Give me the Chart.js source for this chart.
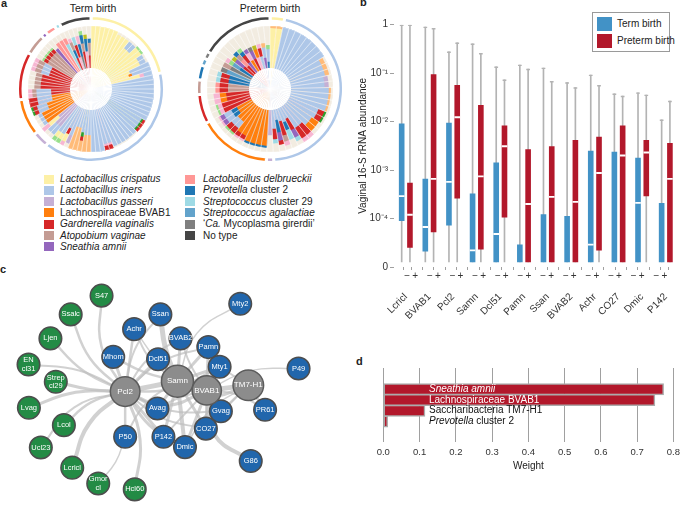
<!DOCTYPE html>
<html>
<head>
<meta charset="utf-8">
<script src="https://cdn.jsdelivr.net/npm/chart.js@4.4.0/dist/chart.umd.min.js"></script>
<style>
  body { margin: 0; background: #fff; font-family: "Liberation Sans", Arial, Helvetica, sans-serif; color: #222; }
  #fig { position: relative; width: 685px; height: 519px; overflow: hidden; }
  #fig canvas { position: absolute; }
  .lab { position: absolute; font-weight: bold; font-size: 11px; }
  .ttl { position: absolute; font-size: 10.5px; text-align: center; line-height: 11px; }
  .txt { position: absolute; font-size: 10px; line-height: 10px; white-space: nowrap; }
  .sw { position: absolute; width: 10px; height: 9px; }
  #legB { position: absolute; left: 592px; top: 12px; width: 78px; height: 40px; border: 1px solid #9a9a9a; box-sizing: border-box; }
  #legB .sw { width: 15px; height: 14px; }
</style>
</head>
<body>
<div id="fig">
  <div class="lab" style="left:1px;top:-3px">a</div>
  <div class="lab" style="left:360px;top:-4px">b</div>
  <div class="lab" style="left:0px;top:263px">c</div>
  <div class="lab" style="left:356px;top:355px">d</div>
  <div class="ttl" style="left:43px;top:3px;width:100px">Term birth</div>
  <div class="ttl" style="left:220px;top:3px;width:100px">Preterm birth</div>
  <div id="legA"></div>
  <div id="legB">
    <div class="sw" style="left:4px;top:4px;background:#4292c6"></div>
    <div class="txt" style="left:24px;top:6px">Term birth</div>
    <div class="sw" style="left:4px;top:21px;background:#b2182b"></div>
    <div class="txt" style="left:24px;top:23px">Preterm birth</div>
  </div>
</div>
<script>
const FONT = '"Liberation Sans", Arial, Helvetica, sans-serif';

// ---------- panel a: community composition per sample ----------
const speciesKeys = ['crisp', 'iners', 'gass', 'bvab1', 'gvag', 'avag', 'samn',
                     'delb', 'prev', 'strep29', 'sagal', 'myco', 'none'];
const speciesLegend = ['<i>Lactobacillus crispatus</i>', '<i>Lactobacillus iners</i>',
  '<i>Lactobacillus gasseri</i>', 'Lachnospiraceae BVAB1', '<i>Gardnerella vaginalis</i>',
  '<i>Atopobium vaginae</i>', '<i>Sneathia amnii</i>', '<i>Lactobacillus delbrueckii</i>',
  '<i>Prevotella</i> cluster 2', '<i>Streptococcus</i> cluster 29', '<i>Streptococcus agalactiae</i>',
  '‘<i>Ca.</i> Mycoplasma girerdii’', 'No type'];
const speciesColors = ['#fdf0a6', '#aec7e8', '#c5b0d5', '#ff7f0e', '#d62728', '#c49c94', '#9467bd',
                       '#ff9896', '#1f77b4', '#9edae5', '#62a3cb', '#7f7f7f', '#454545'];
// minor taxa seen in the bars
const minorKeys = ['lorange', 'green', 'lgreen', 'pink', 'olive', 'other'];
const minorColors = ['#ffbb78', '#2ca02c', '#98df8a', '#f7b6d2', '#bcbd22', '#f2ece1'];

// [type, number of samples, composition inner -> outer]
const termGroups = [
  ['crisp', 6, 'crisp:1'],
  ['crisp', 3, 'crisp:.95 other:.05'],
  ['crisp', 2, 'crisp:.75 iners:.2 other:.05'],
  ['crisp', 2, 'crisp:.95 lgreen:.05'],
  ['crisp', 2, 'crisp:.8 iners:.15 other:.05'],
  ['crisp', 1, 'crisp:.5 iners:.5'],
  ['crisp', 1, 'crisp:.45 bvab1:.08 iners:.47'],
  ['crisp', 1, 'crisp:.7 pink:.1 iners:.2'],
  ['iners', 10, 'iners:1'],
  ['iners', 3, 'iners:.9 green:.04 gvag:.06'],
  ['iners', 6, 'iners:.97 other:.03'],
  ['iners', 2, 'iners:.85 pink:.05 gvag:.1'],
  ['iners', 3, 'iners:1'],
  ['iners', 2, 'iners:.6 lorange:.4'],
  ['iners', 1, 'iners:.55 green:.1 gvag:.1 lorange:.25'],
  ['iners', 2, 'iners:.45 lorange:.55'],
  ['iners', 1, 'iners:.7 gass:.2 other:.1'],
  ['iners', 1, 'iners:.55 gvag:.15 crisp:.2 pink:.1'],
  ['iners', 2, 'iners:.75 crisp:.15 lgreen:.1'],
  ['gass', 2, 'gass:.65 iners:.25 other:.1'],
  ['gass', 1, 'gass:.5 crisp:.3 pink:.2'],
  ['bvab1', 3, 'bvab1:.8 iners:.1 other:.1'],
  ['bvab1', 2, 'bvab1:.6 iners:.25 gvag:.1 green:.05'],
  ['bvab1', 2, 'bvab1:.45 iners:.35 gvag:.2'],
  ['gvag', 2, 'gvag:.45 iners:.35 avag:.1 pink:.1'],
  ['gvag', 4, 'gvag:.7 avag:.15 other:.15'],
  ['gvag', 3, 'gvag:.55 iners:.2 avag:.15 pink:.1'],
  ['avag', 4, 'avag:.7 gvag:.1 lgreen:.05 other:.15'],
  ['samn', 1, 'samn:.75 other:.25'],
  ['delb', 2, 'delb:.85 other:.15'],
  ['strep29', 1, 'strep29:.7 delb:.15 other:.15'],
  ['none', 1, 'gvag:.3 prev:.2 avag:.2 pink:.1 other:.2'],
  ['none', 1, 'pink:.3 gvag:.3 strep29:.2 other:.2'],
  ['none', 1, 'myco:.3 prev:.3 pink:.2 other:.2'],
  ['none', 1, 'gvag:.4 avag:.2 prev:.2 lgreen:.1 other:.1'],
  ['none', 1, 'pink:.4 prev:.3 olive:.1 other:.2'],
  ['none', 1, 'gvag:.3 avag:.3 prev:.1 other:.3']
];
const pretermGroups = [
  ['crisp', 2, 'crisp:.95 lorange:.05'],
  ['iners', 8, 'iners:1'],
  ['iners', 3, 'iners:.85 lorange:.1 other:.05'],
  ['iners', 2, 'iners:.8 gass:.1 other:.1'],
  ['iners', 4, 'iners:.9 lorange:.05 other:.05'],
  ['iners', 2, 'iners:.75 gvag:.15 green:.05 other:.05'],
  ['iners', 2, 'iners:.7 bvab1:.2 other:.1'],
  ['iners', 2, 'iners:.6 gvag:.3 pink:.1'],
  ['iners', 1, 'iners:.3 gvag:.3 samn:.2 strep29:.1 other:.1'],
  ['iners', 1, 'iners:.35 prev:.2 strep29:.25 other:.2'],
  ['iners', 1, 'iners:.3 gvag:.35 avag:.15 pink:.1 other:.1'],
  ['iners', 1, 'iners:.25 prev:.3 samn:.2 gvag:.1 other:.15'],
  ['iners', 1, 'iners:.45 gvag:.25 strep29:.1 other:.2'],
  ['gass', 1, 'gass:.6 other:.4'],
  ['bvab1', 4, 'bvab1:.85 prev:.05 other:.1'],
  ['bvab1', 2, 'bvab1:.75 gvag:.1 pink:.05 other:.1'],
  ['bvab1', 2, 'bvab1:.5 iners:.2 gvag:.15 lgreen:.05 other:.1'],
  ['bvab1', 2, 'bvab1:.4 prev:.15 iners:.2 samn:.1 pink:.05 other:.1'],
  ['gvag', 2, 'gvag:.7 pink:.1 lgreen:.05 other:.15'],
  ['gvag', 2, 'gvag:.55 bvab1:.15 pink:.15 other:.15'],
  ['avag', 2, 'avag:.5 gvag:.2 delb:.1 other:.2'],
  ['prev', 2, 'prev:.5 gvag:.2 strep29:.1 other:.2'],
  ['sagal', 1, 'sagal:.6 myco:.15 other:.25'],
  ['myco', 1, 'myco:.55 avag:.2 other:.25'],
  ['none', 1, 'prev:.35 sagal:.2 lgreen:.1 pink:.1 other:.25'],
  ['none', 1, 'gvag:.3 samn:.25 olive:.1 other:.35'],
  ['none', 1, 'gvag:.25 delb:.2 avag:.15 prev:.1 other:.3'],
  ['none', 1, 'samn:.3 gvag:.2 prev:.1 lgreen:.1 other:.3'],
  ['none', 1, 'bvab1:.3 pink:.2 samn:.1 other:.4'],
  ['none', 1, 'gvag:.3 samn:.2 myco:.1 other:.4'],
  ['none', 1, 'pink:.3 bvab1:.2 olive:.1 other:.4'],
  ['none', 1, 'iners:.3 gvag:.2 pink:.1 other:.4'],
  ['none', 1, 'samn:.25 iners:.25 lorange:.1 other:.4'],
  ['none', 1, 'prev:.15 iners:.3 lgreen:.1 other:.45']
];

// ---------- panel b: abundance of discriminating taxa ----------
const bCats = ['Lcricl', 'BVAB1', 'Pcl2', 'Samn', 'Dcl51', 'Pamn', 'Ssan', 'BVAB2', 'Achr', 'CO27', 'Dmic', 'P142'];
const bTicks = [1e-5, 1e-4, 1e-3, 1e-2, 1e-1, 1];
const ZERO = 1.25e-5;   // where zero abundance is drawn on the log axis
const termLow = [0, 0, 0, 0, 0, 0, 0, 0, 0, 0, 0, 0];
const termQ1  = [8.9e-5, 2.1e-5, 7.2e-5, 0, 0, 0, 0, 0, 0, 0, 0, 0];
const termMed = [2.9e-4, 6.7e-5, 5.7e-4, 2.2e-5, 4.8e-5, 0, 0, 0, 2.9e-5, 0, 2.1e-4, 0];
const termQ3  = [9.1e-3, 6.6e-4, 9.5e-3, 3.3e-4, 1.44e-3, 2.9e-5, 1.23e-4, 1.13e-4, 2.5e-3, 2.4e-3, 1.8e-3, 2.1e-4];
const termTop = [1, 0.91, 0.28, 0.41, 0.137, 0.15, 0.13, 0.065, 0.093, 0.038, 0.040, 0.011];
const preLow = [0, 0, 0, 0, 0, 0, 0, 0, 0, 0, 0, 0];
const preQ1  = [2.5e-5, 5.2e-5, 2.6e-4, 2.3e-5, 1.05e-4, 0, 0, 0, 2.2e-5, 0, 2.9e-4, 0];
const preMed = [1.2e-4, 6.6e-4, 1.23e-2, 7.4e-4, 3.1e-3, 2.0e-4, 2.8e-4, 2.2e-4, 8.7e-4, 2.0e-3, 2.3e-3, 6.6e-4];
const preQ3  = [5.5e-4, 0.095, 0.057, 0.022, 8.3e-3, 2.7e-3, 3.1e-3, 4.2e-3, 4.9e-3, 8.3e-3, 4.2e-3, 3.6e-3];
const preTop = [1, 0.85, 0.43, 0.26, 0.074, 0.123, 0.069, 0.051, 0.057, 0.034, 0.036, 0.027];

// ---------- panel c: co-occurrence network ----------
const nodeNames = ['S47', 'Ssalc', 'Ljen', 'EN cl31', 'Strep cl29', 'Lvag', 'Lcol', 'Ucl23', 'Lcricl', 'Gmor cl', 'Hcl60',
  'Ssan', 'Mty2', 'Achr', 'BVAB2', 'Pamn', 'Mhom', 'Dcl51', 'Mty1', 'P49', 'Avag', 'Gvag', 'PR61', 'CO27', 'P50', 'P142', 'Dmic', 'G86',
  'Pcl2', 'Samn', 'BVAB1', 'TM7-H1'];
const nodeX = [93.7, 59.3, 36.7, 12.3, 42.7, 12.7, 51.7, 26, 61, 90, 130.7,
  159.3, 248.3, 130, 181.7, 212.7, 106.7, 156.7, 225.3, 313.3, 156, 226.7, 276, 210, 120, 162.7, 186.7, 260,
  120, 178.3, 211, 257.3];
const nodeY = [281.7, 303.3, 331, 361, 381, 411, 431, 456.7, 480, 498.3, 505,
  303.3, 291, 320.3, 331, 341, 352.3, 355, 363.7, 365.7, 411.7, 415, 413.3, 435, 444.3, 444.3, 456.3, 472.3,
  392.3, 380.3, 391, 385];
const nodeGroup = ['g', 'g', 'g', 'g', 'g', 'g', 'g', 'g', 'g', 'g', 'g',
  'b', 'b', 'b', 'b', 'b', 'b', 'b', 'b', 'b', 'b', 'b', 'b', 'b', 'b', 'b', 'b', 'b',
  'h', 'h', 'h', 'h'];
const nodeSize = [11.3, 11.3, 11.3, 11.3, 11.3, 11.3, 11.3, 11.3, 11.3, 11.3, 11.3,
  11.3, 11.3, 11.3, 11.3, 11.3, 11.3, 11.3, 11.3, 11.3, 11.3, 11.3, 11.3, 11.3, 11.3, 11.3, 11.3, 11.3,
  14.8, 16, 14.6, 15.3];
// [from, to, width, bend]
const edges = [
  ['S47', 'Pcl2', 2.5, 0.12], ['Ssalc', 'Pcl2', 2.5, 0.1], ['Ljen', 'Pcl2', 2.5, 0.08],
  ['EN cl31', 'Pcl2', 2, -0.08], ['Strep cl29', 'Pcl2', 3, 0.04], ['Lvag', 'Pcl2', 3, -0.08],
  ['Lcol', 'Pcl2', 2.5, -0.1], ['Ucl23', 'Pcl2', 2, -0.15], ['Lcricl', 'Pcl2', 4, -0.12],
  ['Gmor cl', 'P50', 1.5, 0.08], ['Hcl60', 'Pcl2', 3, 0.1],
  ['Pcl2', 'Samn', 5, 0], ['Samn', 'BVAB1', 5, 0], ['BVAB1', 'TM7-H1', 5, 0],
  ['Samn', 'TM7-H1', 3, 0.18], ['Pcl2', 'BVAB1', 3, 0.18],
  ['Ssan', 'Samn', 5, 0.05], ['Ssan', 'Pcl2', 2, 0.1],
  ['Achr', 'Pcl2', 2.5, 0], ['Achr', 'Samn', 2, 0.1], ['Achr', 'BVAB1', 1.5, 0.1],
  ['BVAB2', 'Samn', 3, 0], ['BVAB2', 'BVAB1', 2, 0.05], ['BVAB2', 'Pcl2', 2, 0.1],
  ['Pamn', 'Samn', 3, 0], ['Pamn', 'BVAB1', 3, 0], ['Pamn', 'Pcl2', 2, 0.1],
  ['Mhom', 'Pcl2', 3, 0], ['Mhom', 'Samn', 2.5, 0.05],
  ['Dcl51', 'Pcl2', 3, 0], ['Dcl51', 'Samn', 3, 0], ['Dcl51', 'BVAB1', 2, 0.05],
  ['Mty1', 'Samn', 3, 0], ['Mty1', 'BVAB1', 2.5, 0], ['Mty1', 'TM7-H1', 2, 0], ['Mty1', 'Pcl2', 2.5, -0.1],
  ['Mty2', 'Samn', 1.5, 0.15], ['P49', 'BVAB1', 1.5, 0.1],
  ['Avag', 'Pcl2', 3, 0], ['Avag', 'Samn', 3, 0], ['Avag', 'BVAB1', 2, -0.05],
  ['Gvag', 'BVAB1', 3, 0], ['Gvag', 'TM7-H1', 2, 0], ['Gvag', 'Samn', 2.5, 0], ['Gvag', 'Pcl2', 2, -0.1],
  ['PR61', 'TM7-H1', 3, 0], ['PR61', 'BVAB1', 2, 0.1], ['G86', 'BVAB1', 4, -0.2],
  ['CO27', 'Samn', 3, 0], ['CO27', 'BVAB1', 2.5, 0], ['CO27', 'Pcl2', 2, -0.1], ['CO27', 'TM7-H1', 1.5, 0],
  ['P50', 'Pcl2', 2.5, 0], ['P50', 'Samn', 2, -0.1],
  ['P142', 'Pcl2', 3, 0], ['P142', 'Samn', 3, 0], ['P142', 'BVAB1', 2, 0],
  ['Dmic', 'Samn', 4, 0], ['Dmic', 'Pcl2', 3, -0.1], ['Dmic', 'BVAB1', 3, 0], ['Dmic', 'TM7-H1', 1.5, -0.1]
];

// ---------- panel d: classifier weights ----------
const dNames = [[['Sneathia amnii', true]], [['Lachnospiraceae BVAB1', false]],
                [['Saccharibacteria TM7-H1', false]], [['Prevotella', true], [' cluster 2', false]]];
const dWeights = [0.773, 0.749, 0.115, 0.012];
const dLabelAt = 0.126;

const TERM = '#4292c6', PRE = '#b2182b', WHISK = '#b3b3b3';

Chart.defaults.font.family = FONT;
Chart.defaults.color = '#222';
Chart.defaults.animation = false;
Chart.defaults.responsive = false;
Chart.defaults.events = [];
Chart.defaults.plugins.legend.display = false;
Chart.defaults.plugins.tooltip.enabled = false;

function canvasAt(left, top, w, h) {
  const c = document.createElement('canvas');
  c.width = w; c.height = h;
  c.style.left = left + 'px'; c.style.top = top + 'px';
  document.getElementById('fig').appendChild(c);
  return c;
}

function colorOf(key) {
  const i = speciesKeys.indexOf(key);
  return i >= 0 ? speciesColors[i] : minorColors[minorKeys.indexOf(key)];
}

// legend of panel a
let legHtml = '';
speciesKeys.forEach((k, i) => {
  const col = i < 7 ? 0 : 1, row = col ? i - 7 : i;
  const top = 174.5 + row * 11.3;
  legHtml += '<div class="sw" style="left:' + (col ? 185 : 44) + 'px;top:' + top + 'px;background:' + speciesColors[i] + '"></div>' +
             '<div class="txt" style="left:' + (col ? 203 : 60) + 'px;top:' + (top - 0.5) + 'px">' + speciesLegend[i] + '</div>';
});
document.getElementById('legA').innerHTML = legHtml;

function drawCircle(cx, cy, groups) {
  const mixes = [];
  groups.forEach(([type, n, mix]) => {
    const comp = mix.split(' ').map(s => { const [k, f] = s.split(':'); return [k, +f]; });
    for (let k = 0; k < n; k++) mixes.push(comp);
  });
  const depth = Math.max(...mixes.map(m => m.length));
  const layers = [];
  for (let L = 0; L < depth; L++) {
    layers.push({
      data: mixes.map(m => m.slice(0, L + 1).reduce((s, p) => s + p[1], 0)),
      backgroundColor: mixes.map(m => colorOf(m[Math.min(L, m.length - 1)][0])),
      borderWidth: 0
    });
  }
  const hole = { data: mixes.map(() => 0), backgroundColor: '#fff', borderWidth: 0 };
  const sep = { data: mixes.map(m => m.reduce((s, p) => s + p[1], 0)), backgroundColor: 'rgba(0,0,0,0)',
                borderColor: 'rgba(255,255,255,0.9)', borderWidth: 0.35 };
  new Chart(canvasAt(cx - 76, cy - 76, 152, 152), {
    type: 'polarArea',
    data: { labels: mixes.map((m, i) => 's' + i), datasets: [hole, sep, ...layers] },
    options: { scales: { r: { display: false, min: -0.5, max: 1.3095, bounds: 'data', startAngle: 0 } } }
  });

  // outer ring: sample type
  const ringTypes = [], ringCounts = [];
  groups.forEach(([t, n]) => {
    if (ringTypes[ringTypes.length - 1] === t) ringCounts[ringCounts.length - 1] += n;
    else { ringTypes.push(t); ringCounts.push(n); }
  });
  new Chart(canvasAt(cx - 75, cy - 75, 150, 150), {
    type: 'doughnut',
    data: { labels: ringTypes, datasets: [{ data: ringCounts, backgroundColor: ringTypes.map(colorOf),
      borderColor: '#fff', borderWidth: 3, hoverBorderWidth: 3, hoverOffset: 0, offset: 0 }] },
    options: { cutout: '92.5%' }
  });
}
drawCircle(91, 89, termGroups);
drawCircle(270, 89, pretermGroups);

// panel b
const Z = v => v === 0 ? ZERO : v;
const spans = (lo, hi) => lo.map((l, i) => [Z(l), Z(hi[i])]);
const medians = med => med.map(m => m ? [m / 1.045, m * 1.045] : null);
const caps = top => top.map(t => [t / 1.07, t]);
const bar = (stack, data, color, pct, order) => ({ stack, data, backgroundColor: color, borderWidth: 0,
  barPercentage: pct, categoryPercentage: 0.7, order });
const decade = { '-5': '0', '-4': '10\u207B\u2074', '-3': '10\u207B\u00B3', '-2': '10\u207B\u00B2', '-1': '10\u207B\u00B9', '0': '1' };

new Chart(canvasAt(340, 0, 345, 321), {
  type: 'bar',
  data: {
    labels: bCats,
    datasets: [
      bar('t', medians(termMed), '#fff', 0.68, 0),
      bar('p', medians(preMed), '#fff', 0.68, 0),
      bar('t', spans(termQ1, termQ3), TERM, 0.68, 1),
      bar('p', spans(preQ1, preQ3), PRE, 0.68, 1),
      bar('t', caps(termTop), WHISK, 0.45, 2),
      bar('p', caps(preTop), WHISK, 0.45, 2),
      bar('t', spans(termLow, termTop), WHISK, 0.2, 3),
      bar('p', spans(preLow, preTop), WHISK, 0.2, 3)
    ]
  },
  options: {
    layout: { padding: { left: 0, right: 7.4, top: 24.7, bottom: 0 } },
    scales: {
      x: {
        type: 'category', stacked: true, offset: true, weight: 1,
        grid: { display: false }, border: { display: false },
        ticks: { minRotation: 45, maxRotation: 45, padding: 2, autoSkip: false, font: { size: 10 }, color: '#333' },
        afterFit: s => { s.height = 40; }
      },
      x2: {
        type: 'linear', position: 'bottom', min: 0, max: bCats.length, weight: 0,
        grid: { drawOnChartArea: false, tickLength: 3, color: '#a0a0a0' }, border: { display: false },
        ticks: { autoSkip: false, maxRotation: 0, padding: 0, font: { size: 10 }, color: '#333',
                 callback: (v, i) => i % 2 ? '+' : '\u2212' },
        afterBuildTicks: s => {
          s.ticks = [];
          bCats.forEach((c, i) => { s.ticks.push({ value: i + 0.325 }, { value: i + 0.675 }); });
        },
        afterFit: s => { s.height = 14; }
      },
      y: {
        type: 'logarithmic', min: 1e-5, max: 1, stacked: false,
        grid: { drawOnChartArea: false, tickLength: 4, color: '#a0a0a0' }, border: { display: false },
        ticks: { padding: 2, font: { size: 10 }, color: '#333',
                 callback: v => decade[Math.round(Math.log10(v))] },
        afterBuildTicks: s => { s.ticks = bTicks.map(v => ({ value: v })); },
        title: { display: true, text: 'Vaginal 16-S rRNA abundance', font: { size: 10 }, color: '#222',
                 padding: { top: 17, bottom: 0 } },
        afterFit: s => { s.width = 54; }
      }
    }
  }
});

// panel c
const groupFill = { g: '#238b45', b: '#2166ac', h: '#8c8c8c' };
const edgeSets = edges.map(([a, b, w, bend]) => {
  const i = nodeNames.indexOf(a), j = nodeNames.indexOf(b);
  const x1 = nodeX[i], y1 = nodeY[i], x2 = nodeX[j], y2 = nodeY[j];
  const mid = { x: (x1 + x2) / 2 - bend * (y2 - y1), y: (y1 + y2) / 2 + bend * (x2 - x1) };
  return { type: 'line', data: [{ x: x1, y: y1 }, mid, { x: x2, y: y2 }], borderColor: 'rgba(190,190,190,0.7)',
           borderWidth: w, pointRadius: 0, tension: 0.45, fill: false, order: 2, clip: false };
});
const nodeSet = {
  type: 'bubble',
  data: nodeNames.map((n, i) => ({ x: nodeX[i], y: nodeY[i], r: nodeSize[i] })),
  backgroundColor: nodeGroup.map(g => groupFill[g]),
  borderColor: nodeGroup.map(g => g === 'h' ? '#5c5c5c' : '#4d4d4d'),
  borderWidth: 1.5, order: 1, clip: false
};
const nodeLabels = {
  id: 'nodeLabels',
  afterDatasetsDraw(chart) {
    const meta = chart.getDatasetMeta(chart.data.datasets.length - 1);
    const ctx = chart.ctx;
    ctx.save();
    ctx.fillStyle = '#fff';
    ctx.textAlign = 'center';
    ctx.textBaseline = 'middle';
    meta.data.forEach((el, i) => {
      const lines = nodeNames[i].split(' ');
      ctx.font = (nodeGroup[i] === 'h' ? 8 : 7.5) + 'px ' + FONT;
      lines.forEach((ln, k) => ctx.fillText(ln, el.x, el.y + (k - (lines.length - 1) / 2) * 8.5));
    });
    ctx.restore();
  }
};
new Chart(canvasAt(0, 255, 340, 264), {
  type: 'bubble',
  data: { datasets: [...edgeSets, nodeSet] },
  options: {
    scales: {
      x: { type: 'linear', display: false, min: 0, max: 340 },
      y: { type: 'linear', display: false, min: 255, max: 519, reverse: true }
    }
  },
  plugins: [nodeLabels]
});

// panel d
const barLabels = {
  id: 'barLabels',
  afterDatasetsDraw(chart) {
    const { ctx, scales: { x, y } } = chart;
    const x0 = x.getPixelForValue(dLabelAt);
    ctx.save();
    ctx.textBaseline = 'middle';
    dNames.forEach((parts, i) => {
      let px = x0;
      const py = y.getPixelForValue(i);
      ctx.fillStyle = dWeights[i] > dLabelAt ? '#fff' : '#111';
      parts.forEach(([t, it]) => {
        ctx.font = (it ? 'italic ' : '') + '10px ' + FONT;
        ctx.fillText(t, px, py);
        px += ctx.measureText(t).width;
      });
    });
    ctx.restore();
  }
};
new Chart(canvasAt(340, 330, 345, 150), {
  type: 'bar',
  data: { datasets: [{ data: dWeights.map((w, i) => ({ x: w, y: i })), backgroundColor: PRE,
    borderColor: '#ababab', borderWidth: 1.5, borderSkipped: false, barThickness: 11.5 }] },
  options: {
    indexAxis: 'y',
    layout: { padding: { left: 43.3, right: 5, top: 38, bottom: 8 } },
    scales: {
      x: {
        type: 'linear', min: 0, max: 0.8, z: 1,
        grid: { color: '#a0a0a0', drawTicks: false }, border: { display: false },
        ticks: { stepSize: 0.1, padding: 5, font: { size: 9.5 }, color: '#333', callback: v => v.toFixed(1) },
        title: { display: true, text: 'Weight', font: { size: 10 }, color: '#222', padding: { top: 0, bottom: 0 } },
        afterFit: s => { s.height = 30; }
      },
      y: { type: 'linear', display: false, reverse: true, min: -1.116, max: 4.05 }
    }
  },
  plugins: [barLabels]
});
</script>
</body>
</html>
